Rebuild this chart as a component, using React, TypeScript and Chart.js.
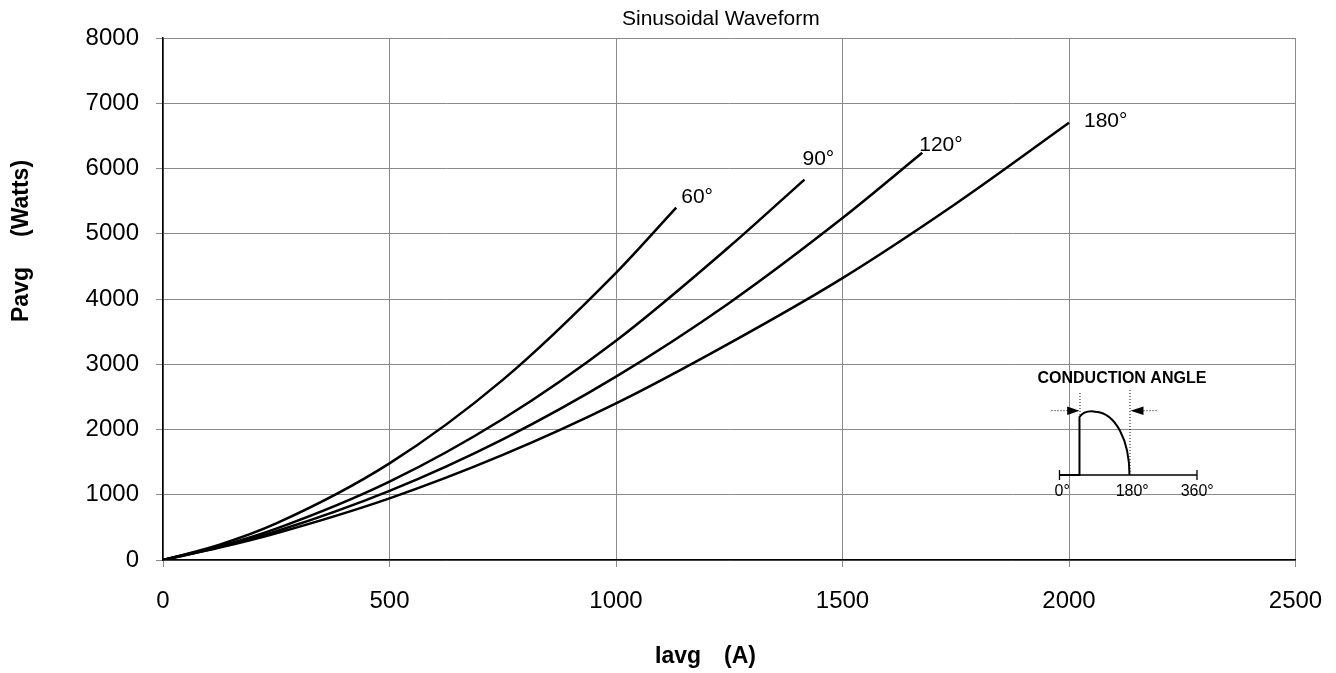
import React, { useEffect, useRef } from "react";
import { Chart, registerables } from "chart.js";

Chart.register(...registerables);

// ---- data ----
const seriesNames = ["60°", "90°", "120°", "180°"];

const x60 = [0, 125, 250, 500, 750, 1000, 1133];
const y60 = [0, 235, 560, 1480, 2760, 4400, 5400];

const x90 = [0, 125, 250, 500, 750, 1000, 1250, 1416];
const y90 = [0, 210, 480, 1200, 2160, 3360, 4800, 5830];

const x120 = [0, 125, 250, 500, 750, 1000, 1250, 1500, 1676];
const y120 = [0, 200, 440, 1060, 1850, 2810, 3940, 5240, 6240];

const x180 = [0, 125, 250, 500, 750, 1000, 1250, 1500, 1750, 2000];
const y180 = [0, 190, 410, 945, 1610, 2400, 3320, 4320, 5460, 6700];

const xTicks = [0, 500, 1000, 1500, 2000, 2500];
const yTicks = [0, 1000, 2000, 3000, 4000, 5000, 6000, 7000, 8000];

const chartTitle = "Sinusoidal Waveform";
const xTitleParts = ["Iavg", "(A)"];
const yTitleParts = ["Pavg", "(Watts)"];
const insetTitle = "CONDUCTION ANGLE";
const insetLabels = ["0°", "180°", "360°"];

// label offsets (pixels) from each curve's last point
const labelOffsets = [
  [5, -5],
  [-2, -15],
  [-3, -2],
  [15, 4],
];

const FONT = '"Liberation Sans", Arial, Helvetica, sans-serif';

function toPoints(xs: number[], ys: number[]) {
  return xs.map((x, i) => ({ x, y: ys[i] }));
}

const annotations = {
  id: "annotations",
  afterDraw(chart: any) {
    const ctx = chart.ctx as CanvasRenderingContext2D;
    const xs = chart.scales.x;
    const ys = chart.scales.y;
    ctx.save();
    ctx.fillStyle = "#000";
    ctx.textBaseline = "alphabetic";
    ctx.textAlign = "left";

    // chart title
    ctx.font = `21px ${FONT}`;
    ctx.fillText(chartTitle, 622, 24.5);

    // curve labels
    chart.data.datasets.forEach((ds: any, i: number) => {
      const last = ds.data[ds.data.length - 1];
      const px = xs.getPixelForValue(last.x);
      const py = ys.getPixelForValue(last.y);
      ctx.font = `21px ${FONT}`;
      ctx.fillText(seriesNames[i], px + labelOffsets[i][0], py + labelOffsets[i][1]);
    });

    // axis titles
    ctx.font = `bold 23px ${FONT}`;
    ctx.fillText(xTitleParts[0], 655, 663);
    ctx.fillText(xTitleParts[1], 724, 663);
    ctx.save();
    ctx.translate(28, 322);
    ctx.rotate(-Math.PI / 2);
    ctx.fillText(yTitleParts[0], 0, 0);
    ctx.restore();
    ctx.save();
    ctx.translate(28, 237);
    ctx.rotate(-Math.PI / 2);
    ctx.fillText(yTitleParts[1], 0, 0);
    ctx.restore();

    // inset: conduction angle diagram
    const ox = xs.getPixelForValue(1979);
    const oy = ys.getPixelForValue(1303);
    ctx.strokeStyle = "#000";
    ctx.lineWidth = 1.3;
    ctx.beginPath();
    ctx.moveTo(ox, oy);
    ctx.lineTo(ox + 137.5, oy);
    ctx.moveTo(ox, oy - 5);
    ctx.lineTo(ox, oy + 5);
    ctx.moveTo(ox + 137.5, oy - 5);
    ctx.lineTo(ox + 137.5, oy + 5);
    ctx.stroke();

    ctx.lineWidth = 2;
    ctx.beginPath();
    ctx.moveTo(ox, oy);
    ctx.lineTo(ox + 20, oy);
    ctx.lineTo(ox + 20, oy - 58);
    ctx.quadraticCurveTo(ox + 25, oy - 65, ox + 36, oy - 63.3);
    ctx.bezierCurveTo(ox + 56, oy - 62, ox + 70, oy - 35, ox + 70, oy);
    ctx.stroke();

    // dotted guides
    ctx.lineWidth = 1;
    ctx.setLineDash([1, 2]);
    ctx.beginPath();
    ctx.moveTo(ox + 20.5, oy - 82);
    ctx.lineTo(ox + 20.5, oy - 58);
    ctx.moveTo(ox + 70.5, oy - 85);
    ctx.lineTo(ox + 70.5, oy);
    ctx.moveTo(ox - 8, oy - 64.3);
    ctx.lineTo(ox + 8, oy - 64.3);
    ctx.moveTo(ox + 84, oy - 64.3);
    ctx.lineTo(ox + 99, oy - 64.3);
    ctx.stroke();
    ctx.setLineDash([]);

    // arrows
    ctx.beginPath();
    ctx.moveTo(ox + 20, oy - 64.3);
    ctx.lineTo(ox + 7.7, oy - 68.5);
    ctx.lineTo(ox + 7.7, oy - 60.1);
    ctx.closePath();
    ctx.moveTo(ox + 71, oy - 64.3);
    ctx.lineTo(ox + 84, oy - 68.5);
    ctx.lineTo(ox + 84, oy - 60.1);
    ctx.closePath();
    ctx.fill();

    // inset texts
    ctx.font = `bold 16px ${FONT}`;
    ctx.fillText(insetTitle, ox - 22, oy - 92);
    ctx.font = `16px "Liberation Sans Narrow", "Arial Narrow", ${FONT}`;
    ctx.textAlign = "center";
    const lx = [2.7, 72.7, 137.7];
    insetLabels.forEach((t, i) => ctx.fillText(t, ox + lx[i], oy + 21));

    ctx.restore();
  },
};

export default function App() {
  const ref = useRef<HTMLCanvasElement | null>(null);

  useEffect(() => {
    if (!ref.current) return;
    const lineDs = (xs: number[], ys: number[]) => ({
      data: toPoints(xs, ys),
      borderColor: "#000",
      borderWidth: 2.5,
      pointRadius: 0,
      fill: false,
      cubicInterpolationMode: "monotone" as const,
    });
    const chart = new Chart(ref.current, {
      type: "line",
      data: {
        datasets: [
          lineDs(x60, y60),
          lineDs(x90, y90),
          lineDs(x120, y120),
          lineDs(x180, y180),
        ],
      },
      options: {
        responsive: false,
        animation: false,
        layout: { padding: { left: 0, top: 38, right: 40.5, bottom: 0 } },
        plugins: {
          legend: { display: false },
          title: { display: false },
          tooltip: { enabled: false },
        },
        scales: {
          x: {
            type: "linear",
            min: 0,
            max: 2500,
            afterBuildTicks: (s: any) => {
              s.ticks = xTicks.map((v) => ({ value: v }));
            },
            afterFit: (s: any) => {
              s.height = 113;
              s.paddingLeft = 0;
              s.paddingRight = 0;
            },
            grid: { color: "#8a8a8a", lineWidth: 1, tickLength: 7, drawTicks: true },
            border: { color: "#000", width: 1.5 },
            ticks: {
              color: "#000",
              font: { family: FONT, size: 24 },
              padding: 20,
              maxRotation: 0,
              callback: (v: any) => String(v),
            },
          },
          y: {
            type: "linear",
            min: 0,
            max: 8000,
            afterBuildTicks: (s: any) => {
              s.ticks = yTicks.map((v) => ({ value: v }));
            },
            afterFit: (s: any) => {
              s.width = 163;
              s.paddingTop = 0;
              s.paddingBottom = 0;
            },
            grid: { color: "#8a8a8a", lineWidth: 1, tickLength: 7, drawTicks: true },
            border: { color: "#000", width: 1.5 },
            ticks: {
              color: "#000",
              font: { family: FONT, size: 24 },
              padding: 17,
              callback: (v: any) => String(v),
            },
          },
        },
      },
      plugins: [annotations],
    });
    return () => chart.destroy();
  }, []);

  return (
    <div style={{ position: "fixed", left: 0, top: 0, width: 1336, height: 673, background: "#fff" }}>
      <canvas ref={ref} width={1336} height={673} style={{ width: 1336, height: 673 }} />
    </div>
  );
}
